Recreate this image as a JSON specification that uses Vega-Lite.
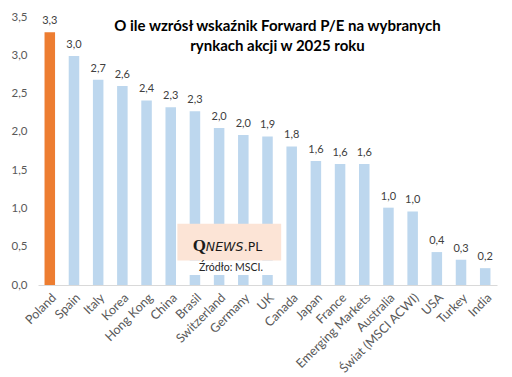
{
  "$schema": "https://vega.github.io/schema/vega-lite/v6.json",
  "width": 459,
  "height": 268,
  "autosize": {"type": "none"},
  "padding": {"left": 38, "top": 17, "right": 15, "bottom": 92},
  "background": "white",
  "config": {
    "locale": {"number": {"decimal": ",", "thousands": " ", "grouping": [3], "currency": ["", " zł"]}},
    "view": {"stroke": null},
    "font": "Lato",
    "axisX": {
      "title": null,
      "labelAngle": -45,
      "labelFontSize": 12.5,
      "labelColor": "#595959",
      "labelFont": "Lato",
      "ticks": false,
      "labelPadding": 6,
      "domainColor": "#d9d9d9",
      "domainWidth": 1,
      "grid": false
    },
    "axisY": {
      "title": null,
      "grid": false,
      "domain": false,
      "ticks": false,
      "labelPadding": 11,
      "labelFontSize": 11.5,
      "labelColor": "#595959",
      "labelFont": "Lato",
      "labelOverlap": false,
      "labelFlush": false,
      "format": ".1f"
    }
  },
  "title": {
    "text": ["O ile wzrósł wskaźnik Forward P/E na wybranych", "rynkach akcji w 2025 roku"],
    "orient": "top",
    "anchor": "middle",
    "frame": "group",
    "baseline": "top",
    "offset": 0,
    "dy": 43,
    "dx": 10,
    "font": "Lato",
    "fontSize": 15,
    "fontWeight": "bold",
    "color": "#000000",
    "lineHeight": 20
  },
  "data": {
    "values": [
      {"country": "Poland", "value": 3.30},
      {"country": "Spain", "value": 2.99},
      {"country": "Italy", "value": 2.68},
      {"country": "Korea", "value": 2.60},
      {"country": "Hong Kong", "value": 2.41},
      {"country": "China", "value": 2.32},
      {"country": "Brasil", "value": 2.27},
      {"country": "Switzerland", "value": 2.05},
      {"country": "Germany", "value": 1.96},
      {"country": "UK", "value": 1.94},
      {"country": "Canada", "value": 1.81},
      {"country": "Japan", "value": 1.62},
      {"country": "France", "value": 1.58},
      {"country": "Emerging Markets", "value": 1.58},
      {"country": "Australia", "value": 1.01},
      {"country": "Świat (MSCI ACWI)", "value": 0.96},
      {"country": "USA", "value": 0.43},
      {"country": "Turkey", "value": 0.33},
      {"country": "India", "value": 0.22}
    ]
  },
  "encoding": {
    "x": {
      "field": "country",
      "type": "nominal",
      "sort": null,
      "scale": {"paddingInner": 0.565, "paddingOuter": 0.27}
    }
  },
  "layer": [
    {
      "mark": {"type": "bar"},
      "encoding": {
        "y": {
          "field": "value",
          "type": "quantitative",
          "scale": {"domain": [0, 3.5], "nice": false},
          "axis": {"values": [0, 0.5, 1, 1.5, 2, 2.5, 3, 3.5], "tickCount": 10, "format": ".1f", "labelOverlap": false}
        },
        "color": {
          "condition": {"test": "datum.country === 'Poland'", "value": "#ED7D31"},
          "value": "#BDD7EE"
        }
      }
    },
    {
      "mark": {"type": "text", "baseline": "bottom", "dy": -6, "fontSize": 11, "color": "#404040", "font": "Lato"},
      "encoding": {
        "y": {"field": "value", "type": "quantitative"},
        "text": {"field": "value", "type": "quantitative", "format": ".1f"}
      }
    },
    {
      "data": {"values": [{}]},
      "mark": {"type": "rect", "color": "#ffffff"},
      "encoding": {
        "x": {"datum": "China", "bandPosition": 1.13},
        "x2": {"datum": "UK", "bandPosition": 1.8},
        "y": {"datum": 0.32},
        "y2": {"datum": 0.13}
      }
    },
    {
      "data": {"values": [{}]},
      "mark": {"type": "rect", "color": "#FCE4D6"},
      "encoding": {
        "x": {"datum": "China", "bandPosition": 1.13},
        "x2": {"datum": "UK", "bandPosition": 1.8},
        "y": {"datum": 0.8},
        "y2": {"datum": 0.32}
      }
    },
    {
      "data": {"values": [{"t": "Q"}]},
      "mark": {"type": "text", "align": "left", "baseline": "alphabetic", "font": "Liberation Serif", "fontWeight": "bold", "fontSize": 17, "color": "#1a1a1a", "dx": -21},
      "encoding": {
        "x": {"datum": "Switzerland", "bandPosition": 0},
        "y": {"datum": 0.45},
        "text": {"field": "t"}
      }
    },
    {
      "data": {"values": [{"t": "NEWS"}]},
      "mark": {"type": "text", "align": "left", "baseline": "alphabetic", "font": "DejaVu Sans", "fontStyle": "italic", "fontSize": 12.5, "color": "#1a1a1a", "dx": -8},
      "encoding": {
        "x": {"datum": "Switzerland", "bandPosition": 0},
        "y": {"datum": 0.45},
        "text": {"field": "t"}
      }
    },
    {
      "data": {"values": [{"t": ".PL"}]},
      "mark": {"type": "text", "align": "left", "baseline": "alphabetic", "font": "DejaVu Sans", "fontSize": 12.5, "color": "#1a1a1a", "dx": 30},
      "encoding": {
        "x": {"datum": "Switzerland", "bandPosition": 0},
        "y": {"datum": 0.45},
        "text": {"field": "t"}
      }
    },
    {
      "data": {"values": [{"t": "Źródło: MSCI."}]},
      "mark": {"type": "text", "align": "center", "baseline": "middle", "font": "Lato", "fontSize": 10.5, "color": "#262626"},
      "encoding": {
        "x": {"datum": "Germany", "bandPosition": -0.67},
        "y": {"datum": 0.225},
        "text": {"field": "t"}
      }
    }
  ]
}
